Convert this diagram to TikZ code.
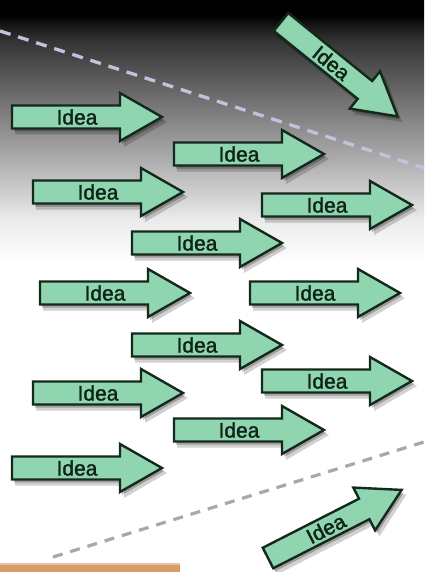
\documentclass[tikz,border=0pt]{standalone}
\usepackage{fontspec}
\setmainfont{Liberation Sans}
\newfontfamily\ideafont[FakeBold=1.6]{Liberation Sans}
\definecolor{mint}{HTML}{8FD5B0}
\definecolor{edge}{HTML}{14281C}
\definecolor{txt}{HTML}{0E2418}
\definecolor{dashtop}{HTML}{C2C2DC}
\definecolor{dashbot}{HTML}{A6A8B0}
\definecolor{tan}{HTML}{D89C68}
\pgfdeclareverticalshading{bgshade}{100bp}{%
  color(0bp)=(white); color(52bp)=(white);
  color(55.8bp)=(black!8); color(61bp)=(black!32);
  color(66.3bp)=(black!56); color(71.5bp)=(black!80);
  color(73.7bp)=(black); color(100bp)=(black)}
\tikzset{
  arrowbox/.style={fill=mint, draw=edge, line width=2.4pt, line join=miter},
  shadowbox/.style={fill=black},
  ideatext/.style={text=txt, font=\ideafont\fontsize{21}{21}\selectfont, inner sep=0pt},
  dashline/.style={line width=3.3pt, dash pattern=on 11pt off 8pt}
}
\newcommand{\ideaarrow}[4]{%
  \begin{scope}[shift={(#2+4,#3+5)}, rotate=#4]
    \fill[shadowbox, opacity=0.18] (-1,-12.5) -- (108,-12.5) -- (108,-25) -- (151,0) -- (108,25) -- (108,12.5) -- (-1,12.5) -- cycle;
  \end{scope}
  \begin{scope}[shift={(#2+2,#3+3)}, rotate=#4]
    \fill[shadowbox, opacity=0.24] (0,-11.5) -- (108,-11.5) -- (108,-24) -- (150,0) -- (108,24) -- (108,11.5) -- (0,11.5) -- cycle;
  \end{scope}
  \begin{scope}[shift={(#2,#3)}, rotate=#4]
    \draw[arrowbox] (0,-11.5) -- (108,-11.5) -- (108,-24) -- (150,0) -- (108,24) -- (108,11.5) -- (0,11.5) -- cycle;
    \node[ideatext, rotate=#4] (#1) at (65,0) {Idea};
  \end{scope}
}
\begin{document}
\begin{tikzpicture}[x=1pt, y=-1pt]
  \useasboundingbox (0,0) rectangle (424,572);
  \shade[shading=bgshade] (0,0) rectangle (424,572);
  % dashed lines
  \coordinate (ta) at (0,31);
  \coordinate (tb) at (424,168);
  \coordinate (ba) at (53,557);
  \coordinate (bb) at (424,442);
  \draw[dashline, dashtop] (ta) -- (tb);
  \draw[dashline, dashbot, line width=3.2pt, dash pattern=on 10pt off 8pt] (ba) -- (bb);
  % tan strip
  \fill[tan] (0,563) rectangle (180,572);
  \fill[tan!60!white] (0,563) rectangle (180,565);
  % arrows
  \ideaarrow{a1}{12}{117}{0}
  \ideaarrow{a2}{174}{154}{0}
  \ideaarrow{a3}{33}{192}{0}
  \ideaarrow{a4}{262}{205}{0}
  \ideaarrow{a5}{132}{243}{0}
  \ideaarrow{a6}{40}{293}{0}
  \ideaarrow{a7}{250}{293}{0}
  \ideaarrow{a8}{132}{345}{0}
  \ideaarrow{a9}{33}{393}{0}
  \ideaarrow{a10}{262}{381}{0}
  \ideaarrow{a11}{174}{430}{0}
  \ideaarrow{a12}{12}{468}{0}
  \ideaarrow{a13}{281}{22}{-39}
  \ideaarrow{a14}{268}{558}{27}
\end{tikzpicture}
\end{document}
